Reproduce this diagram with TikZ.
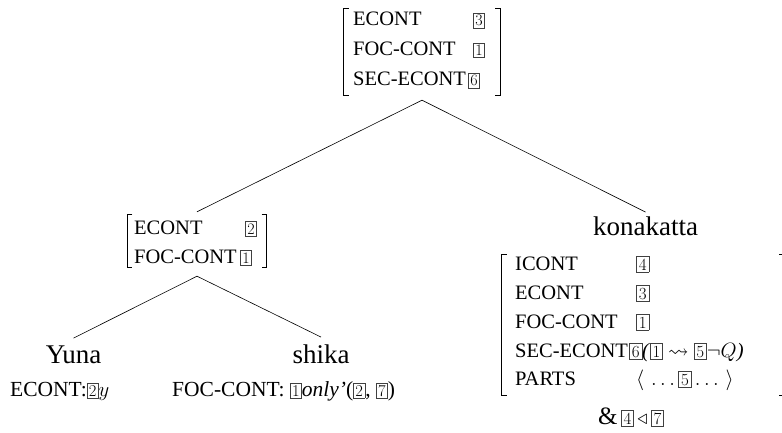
\documentclass[tikz,border=0pt]{standalone}
\usepackage{amssymb}
\usepackage{fontspec}
\setmainfont{Liberation Serif}
\newfontfamily\lmr{Latin Modern Roman}
\newcommand\fa{\fontsize{20.5}{24}\selectfont}
\newcommand\fc{\fontsize{21.5}{25}\selectfont}
\newcommand\fw{\fontsize{27}{30}\selectfont}
\newcommand\tgx[3]{{\fboxsep=#2pt\fboxrule=0.6pt\color{black!75}\fbox{\color{black}\fontsize{#1}{#1}\lmr #3}}}
\newcommand\tga[1]{\tgx{16}{1.5}{#1}}
\newcommand\tgb[1]{\tgx{17}{2}{#1}}
\newcommand\tgc[1]{\tgx{16.5}{1.6}{#1}}
\tikzset{
  lab/.style={anchor=base west, inner sep=0pt},
  word/.style={anchor=base, inner sep=0pt, font=\fw},
  avm/.style={inner sep=0pt, draw=none},
  brk/.style={line width=0.9pt},
  edge/.style={line width=0.6pt},
}
\begin{document}
\begin{tikzpicture}[x=1pt,y=-1pt]
\useasboundingbox (0,0) rectangle (782,433);
% ---- top AVM
\node[avm, minimum width=156pt, minimum height=86pt] (tavm) at (422,52) {};
\draw[brk] ([xshift=5pt]tavm.north west) -- (tavm.north west) -- (tavm.south west) -- ([xshift=5pt]tavm.south west);
\draw[brk] ([xshift=-5pt]tavm.north east) -- (tavm.north east) -- (tavm.south east) -- ([xshift=-5pt]tavm.south east);
\node[lab, font=\fa] (t1) at (353,26) {ECONT};
\node[lab, font=\fa] (t2) at (353,56) {FOC-CONT};
\node[lab, font=\fa] (t3) at (353,86) {SEC-ECONT};
\node[lab] (t1v) at (473,26) {\tga{3}};
\node[lab] (t2v) at (473,56) {\tga{1}};
\node[lab] (t3v) at (468,86) {\tga{6}};
% ---- left AVM
\node[avm, minimum width=139pt, minimum height=52pt] (lavm) at (197,241) {};
\draw[brk] ([xshift=5pt]lavm.north west) -- (lavm.north west) -- (lavm.south west) -- ([xshift=5pt]lavm.south west);
\draw[brk] ([xshift=-5pt]lavm.north east) -- (lavm.north east) -- (lavm.south east) -- ([xshift=-5pt]lavm.south east);
\node[lab, font=\fa] (l1) at (134,234) {ECONT};
\node[lab, font=\fa] (l2) at (134,263) {FOC-CONT};
\node[lab] (l1v) at (245,234) {\tga{2}};
\node[lab] (l2v) at (240,263) {\tga{1}};
% ---- words
\node[word] (kona) at (645.5,235) {konakatta};
\node[word] (yuna) at (73.5,363) {Yuna};
\node[word] (shika) at (321,363) {shika};
% ---- bottom texts
\node[lab, font=\fc] (yunaf) at (10,396) {ECONT:\tgc{2}$y$};
\node[lab, font=\fc] (shikaf) at (172,396) {FOC-CONT: \tgc{1}\textit{only’}(\tgc{2}, \tgc{7})};
% ---- right AVM
\node[avm, minimum width=282pt, minimum height=141pt] (ravm) at (643,325) {};
\draw[brk] ([xshift=5pt]ravm.north west) -- (ravm.north west) -- (ravm.south west) -- ([xshift=5pt]ravm.south west);
\draw[brk] ([xshift=-5pt]ravm.north east) -- (ravm.north east) -- (ravm.south east) -- ([xshift=-5pt]ravm.south east);
\node[lab, font=\fa] (r1) at (515,270) {ICONT};
\node[lab, font=\fa] (r2) at (515,299) {ECONT};
\node[lab, font=\fa] (r3) at (515,328) {FOC-CONT};
\node[lab, font=\fa] (r4) at (515,357) {SEC-ECONT};
\node[lab, font=\fa] (r5) at (515,385) {PARTS};
\node[lab, font=\fa] (r1v) at (636,270) {\tgb{4}};
\node[lab, font=\fa] (r2v) at (636,299) {\tgb{3}};
\node[lab, font=\fa] (r3v) at (636,328) {\tgb{1}};
\node[lab, font=\fa] (r4v) at (629,357) {\tgb{6}\textit{(}\tgb{1} $\leadsto$ \tgb{5}$\neg Q$\textit{)}};
\node[lab, font=\fa] (r5v) at (636,385) {$\big\langle\,\ldots\tgb{5}\ldots\,\big\rangle$};
\node[lab, font=\fa] (amp) at (598,424) {{\fontsize{25}{28}\selectfont\&}\,\tgb{4}\,$\triangleleft$\,\tgb{7}};
% ---- tree edges
\draw[edge] ([yshift=-5pt]tavm.south) -- ([yshift=3pt]lavm.north);
\draw[edge] ([yshift=-5pt]tavm.south) -- ([yshift=4pt]kona.north);
\draw[edge] ([yshift=-9pt]lavm.south) -- ([yshift=7pt]yuna.north);
\draw[edge] ([yshift=-9pt]lavm.south) -- ([yshift=7pt]shika.north);
\end{tikzpicture}
\end{document}
